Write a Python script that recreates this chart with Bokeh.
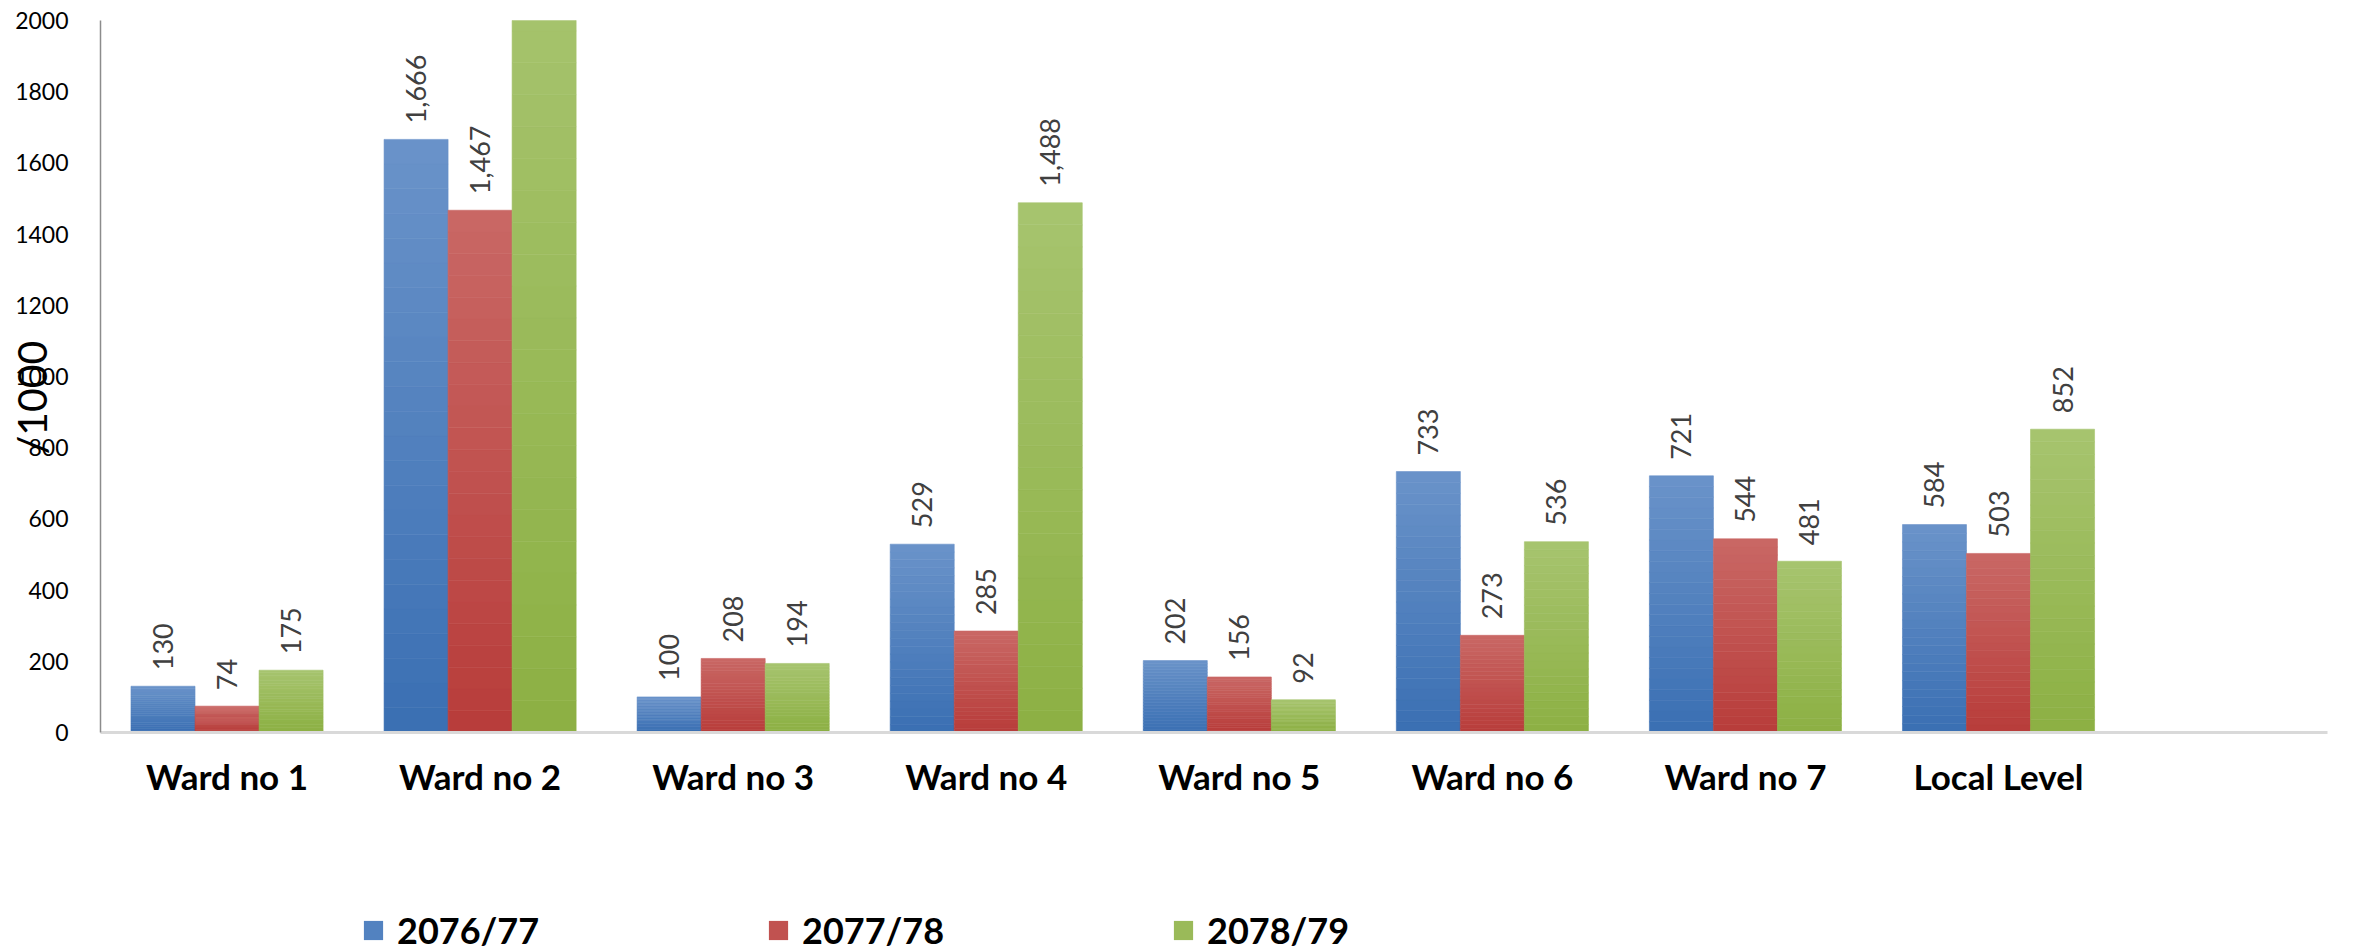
from bokeh.plotting import figure
from bokeh.models import ColumnDataSource, FixedTicker, Legend, LegendItem
from bokeh.layouts import column
from bokeh.core.properties import value
from bokeh.embed import file_html
from bokeh.resources import INLINE
import math

categories = ["Ward no 1", "Ward no 2", "Ward no 3", "Ward no 4", "Ward no 5",
              "Ward no 6", "Ward no 7", "Local Level"]
series_names = ["2076/77", "2077/78", "2078/79"]
v_2076 = [130, 1666, 100, 529, 202, 733, 721, 584]
v_2077 = [74, 1467, 208, 285, 156, 273, 544, 503]
v_2078 = [175, 2150, 194, 1488, 92, 536, 481, 852]
# (top colour, bottom colour) of each series' gradient
grad = [("#6a93c9", "#3a6fb3"), ("#c96865", "#b83c3a"), ("#a7c46f", "#8cb043")]
mid_colors = ["#5282c0", "#c15250", "#9aba59"]
y_ticks = [0, 200, 400, 600, 800, 1000, 1200, 1400, 1600, 1800, 2000]
Y_MAX = 2000

FONT = "Lato"
W = 2374


def mix(c1, c2, t):
    a = [int(c1[i:i + 2], 16) for i in (1, 3, 5)]
    b = [int(c2[i:i + 2], 16) for i in (1, 3, 5)]
    return "#%02x%02x%02x" % tuple(round(a[k] + (b[k] - a[k]) * t) for k in range(3))


p = figure(width=W, height=860, output_backend="svg", toolbar_location=None,
           x_range=(0, 8.8), y_range=(0, Y_MAX),
           min_border_left=100, min_border_top=20, min_border_right=47,
           min_border_bottom=128)
p.outline_line_color = None
p.xgrid.grid_line_color = None
p.ygrid.grid_line_color = None
p.background_fill_color = "white"
p.border_fill_color = "white"

bar_w = 0.253
offsets = [-bar_w, 0.0, bar_w]
NB = 24
for vals, off, (ctop, cbot) in zip([v_2076, v_2077, v_2078], offsets, grad):
    xs = [i + 0.5 + off for i in range(len(categories))]
    bx, bb, bt, bc = [], [], [], []
    for x, v in zip(xs, vals):
        for k in range(NB):
            bx.append(x)
            bb.append(v * k / NB)
            bt.append(v * (k + 1) / NB)
            bc.append(mix(cbot, ctop, (k + 0.5) / NB))
    bsrc = ColumnDataSource(dict(x=bx, bottom=bb, top=bt, c=bc))
    p.vbar(x="x", bottom="bottom", top="top", width=bar_w, source=bsrc,
           fill_color="c", line_color="c", line_width=0.6)
    shown = [(x, v) for x, v in zip(xs, vals) if v <= Y_MAX]
    lsrc = ColumnDataSource(dict(x=[s[0] for s in shown], top=[s[1] for s in shown],
                                 lab=["{:,}".format(s[1]) for s in shown]))
    p.text(x="x", y="top", text="lab", source=lsrc, angle=math.pi / 2,
           text_align="left", text_baseline="middle", y_offset=-16,
           text_font=value(FONT), text_font_size="27px", text_color="#404040")

# axes
xa = p.xaxis[0]
xa.ticker = FixedTicker(ticks=[i + 0.5 for i in range(len(categories))])
xa.major_label_overrides = {i + 0.5: c for i, c in enumerate(categories)}
xa.major_tick_line_color = None
xa.minor_tick_line_color = None
xa.axis_line_color = "#d9d9d9"
xa.axis_line_width = 3
xa.major_label_text_font = FONT
xa.major_label_text_font_style = "bold"
xa.major_label_text_font_size = "35px"
xa.major_label_text_color = "black"
xa.major_label_standoff = 16

ya = p.yaxis[0]
ya.ticker = FixedTicker(ticks=y_ticks)
ya.major_tick_line_color = None
ya.minor_tick_line_color = None
ya.axis_line_color = "#8c8c8c"
ya.axis_line_width = 1.5
ya.major_label_text_font = FONT
ya.major_label_text_font_size = "23px"
ya.major_label_text_color = "black"
ya.major_label_standoff = 26
ya.axis_label = "/1000" + "\u00a0" * 4
ya.axis_label_text_font = FONT
ya.axis_label_text_font_style = "normal"
ya.axis_label_text_font_size = "41px"
ya.axis_label_text_color = "black"
ya.axis_label_standoff = -44

# legend strip
p2 = figure(width=W, height=92, output_backend="svg", toolbar_location=None,
            x_range=(0, 1), y_range=(0, 1), x_axis_location=None,
            y_axis_location=None, min_border=0)
p2.outline_line_color = None
p2.xgrid.grid_line_color = None
p2.ygrid.grid_line_color = None
p2.background_fill_color = "white"
p2.border_fill_color = "white"
items = []
for name, col in zip(series_names, mid_colors):
    r = p2.vbar(x=[0.5], bottom=[0], top=[0], width=0.0, fill_color=col,
                line_color=None)
    items.append(LegendItem(label=name, renderers=[r]))
legend = Legend(items=items, orientation="horizontal", location=(261, 0),
                border_line_alpha=0, background_fill_alpha=0,
                padding=0, margin=0, spacing=39, label_width=330,
                glyph_width=24, glyph_height=24, label_standoff=12,
                label_text_font=FONT, label_text_font_style="bold",
                label_text_font_size="36px", label_text_color="black")
p2.add_layout(legend, "center")

open("out.html", "w").write(file_html(column(p, p2, spacing=0), INLINE))
